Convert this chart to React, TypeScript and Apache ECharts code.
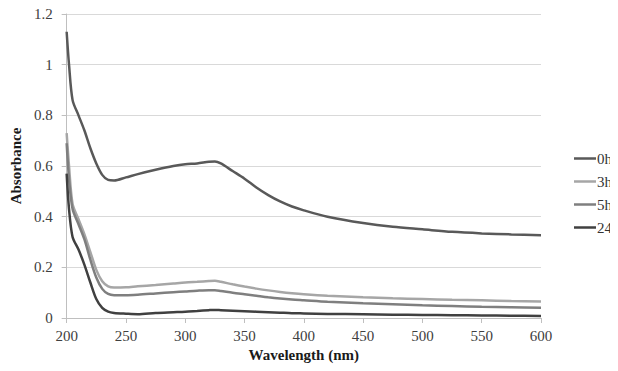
import React, { useEffect, useRef } from "react";
import * as echarts from "echarts";

const wavelengths = [200, 202, 205, 210, 215, 220, 225, 230, 235, 240, 250, 260, 275, 290, 300, 310, 320, 325, 330, 340, 350, 360, 370, 380, 390, 400, 420, 450, 475, 500, 525, 550, 575, 600];

const abs0h = [1.13, 1.0, 0.86, 0.8, 0.74, 0.67, 0.61, 0.565, 0.545, 0.543, 0.555, 0.568, 0.585, 0.6, 0.607, 0.61, 0.617, 0.618, 0.61, 0.58, 0.55, 0.515, 0.485, 0.46, 0.44, 0.425, 0.4, 0.375, 0.36, 0.35, 0.34, 0.334, 0.33, 0.327];
const abs3h = [0.73, 0.6, 0.45, 0.39, 0.33, 0.26, 0.19, 0.145, 0.125, 0.12, 0.121, 0.125, 0.13, 0.136, 0.14, 0.143, 0.146, 0.147, 0.143, 0.133, 0.124, 0.116, 0.109, 0.103, 0.098, 0.094, 0.088, 0.082, 0.078, 0.075, 0.072, 0.07, 0.067, 0.065];
const abs5h = [0.69, 0.55, 0.43, 0.37, 0.31, 0.23, 0.16, 0.115, 0.095, 0.09, 0.09, 0.092, 0.097, 0.102, 0.105, 0.108, 0.11, 0.11, 0.107, 0.1, 0.094, 0.088, 0.082, 0.077, 0.073, 0.07, 0.064, 0.058, 0.054, 0.05, 0.047, 0.044, 0.042, 0.04];
const abs24h = [0.57, 0.43, 0.32, 0.27, 0.21, 0.14, 0.075, 0.04, 0.025, 0.02, 0.017, 0.015, 0.02, 0.023, 0.025, 0.028, 0.031, 0.032, 0.031, 0.029, 0.027, 0.025, 0.023, 0.021, 0.019, 0.018, 0.016, 0.015, 0.013, 0.012, 0.011, 0.01, 0.009, 0.008];

const seriesNames = ["0h", "3h", "5h", "24h"];
const seriesValues = [abs0h, abs3h, abs5h, abs24h];
const seriesColors = ["#595959", "#a6a6a6", "#7f7f7f", "#404040"];

const FONT = "Liberation Serif";

export default function App() {
  const ref = useRef<HTMLDivElement>(null);
  useEffect(() => {
    if (!ref.current) return;
    const chart = echarts.init(ref.current, undefined, { renderer: "svg" });
    chart.setOption({
      animation: false,
      grid: { left: 62, right: 77, top: 14, bottom: 53 },
      legend: {
        orient: "vertical",
        left: 569,
        top: 146,
        itemWidth: 22,
        itemHeight: 2.5,
        itemGap: 8,
        icon: "rect",
        formatter: "{a|{name}}",
        textStyle: {
          fontFamily: FONT,
          fontSize: 15,
          padding: [0, 0, 0, -4],
          rich: { a: { fontFamily: FONT, fontSize: 15, color: "#333333" } },
        },
        data: seriesNames,
      },
      xAxis: {
        type: "value",
        min: 200,
        max: 600,
        interval: 50,
        name: "Wavelength (nm)",
        nameLocation: "middle",
        nameGap: 29,
        nameTextStyle: { fontFamily: FONT, fontSize: 15, fontWeight: "bold", color: "#1a1a1a" },
        axisLine: { show: true, lineStyle: { color: "#bfbfbf", width: 1 } },
        axisTick: { show: true, length: 5, lineStyle: { color: "#bfbfbf" } },
        axisLabel: { fontFamily: FONT, fontSize: 15, color: "#404040", margin: 10 },
        splitLine: { show: false },
      },
      yAxis: {
        type: "value",
        min: 0,
        max: 1.2,
        interval: 0.2,
        name: "Absorbance",
        nameLocation: "middle",
        nameGap: 32,
        nameTextStyle: { fontFamily: FONT, fontSize: 15, fontWeight: "bold", color: "#1a1a1a" },
        axisLine: { show: true, lineStyle: { color: "#bfbfbf", width: 1 } },
        axisTick: { show: true, length: 5, lineStyle: { color: "#bfbfbf" } },
        axisLabel: { fontFamily: FONT, fontSize: 15, color: "#404040", margin: 14 },
        splitLine: { show: true, lineStyle: { color: "#d9d9d9", width: 1 } },
      },
      series: seriesNames.map((name, i) => ({
        name,
        type: "line",
        smooth: 0.3,
        showSymbol: false,
        color: seriesColors[i],
        lineStyle: { color: seriesColors[i], width: 2.5 },
        data: wavelengths.map((w, j) => [w, seriesValues[i][j]]),
      })),
    });
    return () => chart.dispose();
  }, []);
  return <div ref={ref} style={{ width: 618, height: 371, margin: "-8px 0 0 -8px" }} />;
}
